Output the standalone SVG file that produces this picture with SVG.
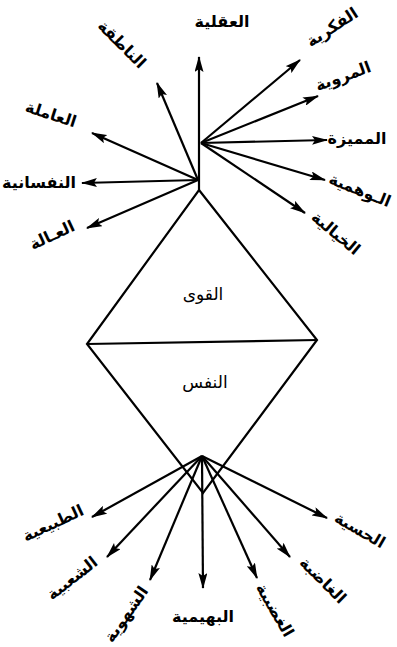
<svg xmlns="http://www.w3.org/2000/svg" width="397" height="647" viewBox="0 0 397 647">
<defs>
<marker id="ah" viewBox="0 0 16 9" refX="15" refY="4.5" markerWidth="16" markerHeight="9" markerUnits="userSpaceOnUse" orient="auto">
<path d="M0,0 L16,4.5 L0,9 L3,4.5 Z" fill="#000"/>
</marker>
<style>
.ln{stroke:#000;stroke-width:2.2;fill:none}
.ar{stroke:#000;stroke-width:2.2;fill:none;marker-end:url(#ah)}
.lb{font-family:"DejaVu Sans","Noto Sans",sans-serif;font-size:16px;font-weight:bold;fill:#000;text-anchor:middle}
.cl{font-family:"DejaVu Sans","Noto Sans",sans-serif;font-size:17px;fill:#000;text-anchor:middle}
</style>
</defs>
<rect width="397" height="647" fill="#fff"/>
<g id="connectors">
<polygon class="ln" points="199,190 317,340 203,493 87,344"/>
<line class="ln" x1="87" y1="344" x2="317" y2="340"/>
<line class="ar" x1="199" y1="190" x2="199" y2="57"/>
<line class="ar" x1="198" y1="180" x2="157" y2="83"/>
<line class="ar" x1="198" y1="180" x2="92" y2="133"/>
<line class="ar" x1="198" y1="180" x2="82" y2="183"/>
<line class="ar" x1="198" y1="180" x2="87" y2="228"/>
<line class="ar" x1="201" y1="143" x2="300" y2="60"/>
<line class="ar" x1="201" y1="143" x2="318" y2="96"/>
<line class="ar" x1="201" y1="143" x2="327" y2="140"/>
<line class="ar" x1="201" y1="143" x2="325" y2="180"/>
<line class="ar" x1="201" y1="143" x2="305" y2="213"/>
<line class="ar" x1="202" y1="456" x2="92" y2="517"/>
<line class="ar" x1="202" y1="456" x2="107" y2="557"/>
<line class="ar" x1="202" y1="456" x2="150" y2="580"/>
<line class="ar" x1="202" y1="456" x2="203" y2="588"/>
<line class="ar" x1="202" y1="456" x2="257" y2="578"/>
<line class="ar" x1="202" y1="456" x2="290" y2="557"/>
<line class="ar" x1="202" y1="456" x2="327" y2="518"/>
</g>
<g id="center">
<text class="cl" x="203" y="300">القوى</text>
<text class="cl" x="205" y="388">النفس</text>
</g>
<g id="top-labels">
<g id="aqliya"><text class="lb" transform="translate(222,21)" dy="0.35em">العقلية</text></g>
<g id="natiqa"><text class="lb" transform="translate(122,44) rotate(45)" dy="0.35em">الناطقة</text></g>
<g id="amila"><text class="lb" transform="translate(51,114) rotate(18)" dy="0.35em">العاملة</text></g>
<g id="nafsaniya"><text class="lb" transform="translate(39,182)" dy="0.35em">النفسانية</text></g>
<g id="aalima"><text class="lb" transform="translate(52,235) rotate(-25)" dy="0.35em">العـالة</text></g>
<g id="fikriya"><text class="lb" transform="translate(332,27) rotate(-33)" dy="0.35em">الفكرية</text></g>
<g id="marwiya"><text class="lb" transform="translate(343,76) rotate(-20)" dy="0.35em">المروية</text></g>
<g id="mumayyiza"><text class="lb" transform="translate(357,138)" dy="0.35em">المميزة</text></g>
<g id="wahmiya"><text class="lb" transform="translate(360,190) rotate(22)" dy="0.35em">الـوهمية</text></g>
<g id="khayaliya"><text class="lb" transform="translate(336,233) rotate(40)" dy="0.35em">الخيالية</text></g>
</g>
<g id="bottom-labels">
<g id="tabiiya"><text class="lb" transform="translate(53,523) rotate(-25)" dy="0.35em">الطبيعية</text></g>
<g id="shabiya"><text class="lb" transform="translate(72,578) rotate(-38)" dy="0.35em">الشعبية</text></g>
<g id="shahwiya"><text class="lb" transform="translate(126,614) rotate(-55)" dy="0.35em">الشهوية</text></g>
<g id="bahimiya"><text class="lb" transform="translate(203,616)" dy="0.35em">البهيمية</text></g>
<g id="ghadabiya"><text class="lb" transform="translate(275,610) rotate(60)" dy="0.35em">الغضبية</text></g>
<g id="ghasiba"><text class="lb" transform="translate(323,580) rotate(45)" dy="0.35em">الغاضبة</text></g>
<g id="hissiya"><text class="lb" transform="translate(360,530) rotate(30)" dy="0.35em">الحسية</text></g>
</g>
</svg>
